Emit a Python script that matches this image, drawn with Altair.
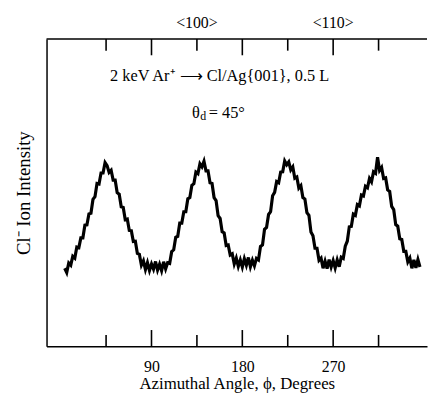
import altair as alt
import pandas as pd

angles = [4, 6, 8, 10, 12, 14, 16, 18, 20, 22, 24, 26, 28, 30, 32, 34, 36, 38, 40, 42,
          44, 46, 48, 50, 52, 54, 56, 58, 60, 62, 64, 66, 68, 70, 72, 74, 76, 78, 80, 82,
          84, 86, 88, 90, 92, 94, 96, 98, 100, 102, 104, 106, 108, 110, 112, 114, 116, 118, 120, 122,
          124, 126, 128, 130, 132, 134, 136, 138, 140, 142, 144, 146, 148, 150, 152, 154, 156, 158, 160, 162,
          164, 166, 168, 170, 172, 174, 176, 178, 180, 182, 184, 186, 188, 190, 192, 194, 196, 198, 200, 202,
          204, 206, 208, 210, 212, 214, 216, 218, 220, 222, 224, 226, 228, 230, 232, 234, 236, 238, 240, 242,
          244, 246, 248, 250, 252, 254, 256, 258, 260, 262, 264, 266, 268, 270, 272, 274, 276, 278, 280, 282,
          284, 286, 288, 290, 292, 294, 296, 298, 300, 302, 304, 306, 308, 310, 312, 314, 316, 318, 320, 322,
          324, 326, 328, 330, 332, 334, 336, 338, 340, 342, 344, 346, 348, 350, 352, 354, 356]

intensity = [25.4, 24.0, 27.1, 26.4, 29.3, 28.7, 32.3, 32.1, 35.3, 35.3, 39.4, 39.5, 43.1, 43.3, 47.8, 48.7, 53.0, 52.8, 56.4, 56.4,
             59.8, 58.8, 56.6, 57.3, 54.1, 54.1, 50.0, 49.5, 45.4, 45.2, 41.2, 41.4, 37.7, 37.6, 34.1, 34.2, 30.2, 29.9, 26.4, 27.8,
             25.0, 27.2, 24.7, 26.8, 25.1, 27.6, 24.8, 26.7, 24.6, 27.5, 25.2, 27.2, 27.0, 30.8, 31.4, 35.5, 35.8, 40.1, 40.1, 43.8,
             43.8, 48.0, 48.4, 52.4, 52.9, 56.7, 56.2, 59.4, 58.4, 60.2, 57.1, 57.1, 53.2, 53.0, 48.4, 47.4, 42.5, 41.6, 37.3, 36.9,
             32.8, 33.0, 29.7, 30.1, 26.8, 28.7, 26.0, 28.1, 25.8, 28.5, 26.4, 28.9, 25.9, 28.0, 26.2, 28.6, 28.1, 32.5, 33.0, 38.1,
             38.7, 42.9, 43.8, 49.0, 50.1, 53.6, 53.2, 56.7, 56.8, 60.3, 59.1, 60.0, 57.4, 58.4, 54.7, 55.1, 51.5, 52.3, 48.4, 47.9,
             43.5, 42.6, 37.2, 36.0, 31.9, 31.9, 28.0, 28.7, 25.4, 27.7, 25.3, 28.2, 25.8, 27.9, 25.5, 28.1, 25.9, 29.0, 28.6, 32.6,
             34.2, 38.9, 39.0, 43.0, 42.6, 46.1, 45.7, 49.2, 48.9, 52.1, 51.6, 54.6, 53.5, 56.8, 56.3, 61.5, 57.2, 58.2, 54.6, 54.8,
             50.9, 50.4, 45.5, 44.5, 39.6, 39.1, 35.0, 34.8, 30.9, 30.9, 27.5, 28.7, 25.4, 28.1, 25.5, 28.2, 25.8]

tick_angles = [45, 90, 135, 180, 225, 270, 315]
bottom_labels = [90, 180, 270]
top_label_angles = [135, 270]
top_label_text = ["<100>", "<110>"]

X_DOMAIN = [-14, 363]
Y_DOMAIN = [0, 100]
FONT = "Liberation Serif"

scan = pd.DataFrame({"phi": angles, "I": intensity})
ticks = pd.DataFrame({"phi": tick_angles})
top_lab = pd.DataFrame({"phi": top_label_angles, "lab": top_label_text})
one = pd.DataFrame({"k": [0]})

xs = alt.Scale(domain=X_DOMAIN, nice=False, zero=False)
ys = alt.Scale(domain=Y_DOMAIN, nice=False, zero=False)

line = alt.Chart(scan).mark_line(color="black", strokeWidth=3.2).encode(
    x=alt.X("phi:Q", scale=xs,
            axis=alt.Axis(orient="bottom", values=bottom_labels, ticks=False, grid=False,
                          domain=True, domainColor="black", domainWidth=1.5,
                          labelFont=FONT, labelFontSize=16, labelColor="black", labelPadding=12,
                          title="Azimuthal Angle, ϕ, Degrees", titleFont=FONT, titleFontSize=17,
                          titleFontWeight="normal", titleColor="black", titlePadding=2)),
    y=alt.Y("I:Q", scale=ys,
            axis=alt.Axis(ticks=False, labels=False, grid=False, domain=True,
                          domainColor="black", domainWidth=1.5,
                          title="Cl⁻  Ion Intensity", titleFont=FONT, titleFontSize=19,
                          titleFontWeight="normal", titleColor="black", titlePadding=13)),
)

bottom_ticks = alt.Chart(ticks).transform_calculate(
    y1="0", y2="datum.phi % 90 == 0 ? 5.3 : 3.7"
).mark_rule(color="black", strokeWidth=1.6).encode(
    x=alt.X("phi:Q", scale=xs),
    y=alt.Y("y1:Q", scale=ys),
    y2="y2:Q",
)

top_ticks = alt.Chart(ticks).transform_calculate(
    y1="100", y2="datum.phi % 90 == 0 ? 94.7 : 96.2"
).mark_rule(color="black", strokeWidth=1.6).encode(
    x=alt.X("phi:Q", scale=xs),
    y=alt.Y("y1:Q", scale=ys),
    y2="y2:Q",
)

top_line = alt.Chart(one).transform_calculate(
    xa=str(X_DOMAIN[0]), xb=str(X_DOMAIN[1]), yy=str(Y_DOMAIN[1])
).mark_rule(color="black", strokeWidth=1.5).encode(
    x=alt.X("xa:Q", scale=xs), x2="xb:Q", y=alt.Y("yy:Q", scale=ys),
)

top_text = alt.Chart(top_lab).transform_calculate(yy=str(Y_DOMAIN[1])).mark_text(
    align="center", baseline="middle", dy=-16, font=FONT, fontSize=16, color="black"
).encode(
    x=alt.X("phi:Q", scale=xs), y=alt.Y("yy:Q", scale=ys), text="lab:N",
)

def note(txt, px, py, dx=0, dy=0, size=16.5, align="center"):
    return alt.Chart(one).transform_calculate(px=str(px), py=str(py)).mark_text(
        align=align, baseline="middle", dx=dx, dy=dy, font=FONT, fontSize=size, color="black"
    ).encode(
        x=alt.X("px:Q", scale=xs), y=alt.Y("py:Q", scale=ys), text=alt.value(txt),
    )

title1 = note("2 keV Ar⁺ ⟶ Cl/Ag{001}, 0.5 L", 157.5, 88)
theta = note("θ", 157.5, 76, dx=-28, align="left")
sub_d = note("d", 157.5, 76, dx=-19.5, dy=3, size=12, align="left")
eq = note("= 45°", 157.5, 76, dx=-11, align="left")

chart = alt.layer(line, bottom_ticks, top_ticks, top_line, top_text, title1, theta, sub_d, eq).properties(
    width=385, height=311,
    autosize=alt.AutoSizeParams(type="none"),
    padding={"left": 39, "top": 29, "right": 1, "bottom": 55},
    background="white",
).configure_view(stroke=None)

chart.save("out.html", embed_options={"renderer": "svg", "actions": False})
